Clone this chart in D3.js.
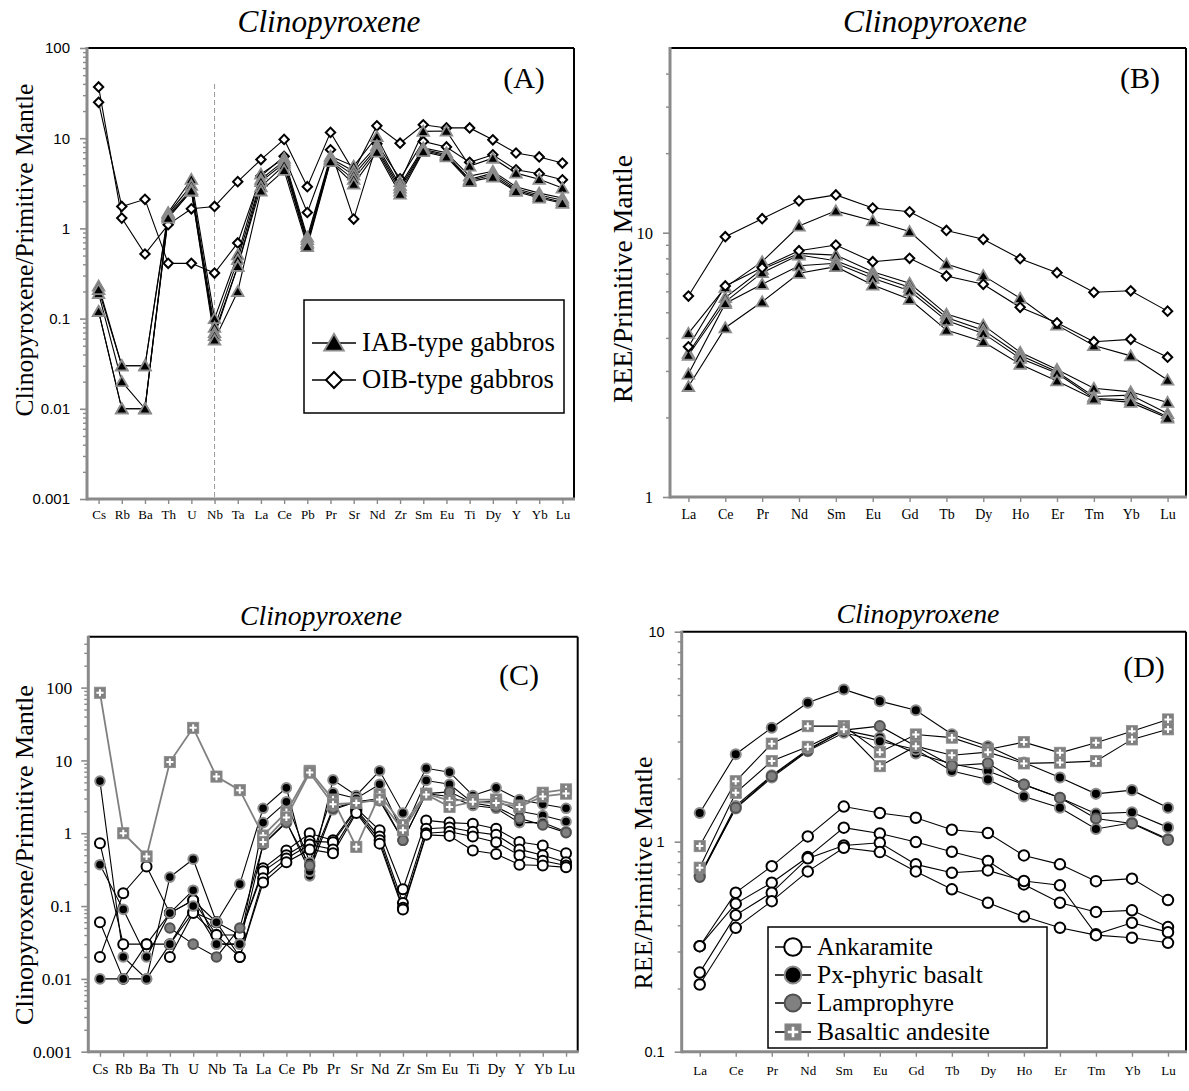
<!DOCTYPE html>
<html>
<head>
<meta charset="utf-8">
<script src="https://cdn.jsdelivr.net/npm/d3@7"></script>
<style>
  body { margin: 0; background: #fff; }
  svg { display: block; }
</style>
</head>
<body>
<svg id="fig" width="1189" height="1091"></svg>
<script>
// ---------- categories ----------
const traceElements = ["Cs","Rb","Ba","Th","U","Nb","Ta","La","Ce","Pb","Pr","Sr","Nd","Zr","Sm","Eu","Ti","Dy","Y","Yb","Lu"];
const reeElements   = ["La","Ce","Pr","Nd","Sm","Eu","Gd","Tb","Dy","Ho","Er","Tm","Yb","Lu"];

// ---------- (A) gabbro clinopyroxene, trace elements ----------
const iabTraceA = [
  [0.23,0.03,0.03,1.5,3.5,0.10,0.51,4.0,6.0,0.80,6.3,4.9,10.4,3.3,11.9,12.0,4.9,6.0,4.1,3.5,2.8],
  [0.19,0.02,0.01,1.45,3.0,0.08,0.45,3.5,5.6,0.75,6.0,4.3,8.3,3.0,7.8,6.9,3.8,4.3,2.9,2.46,2.17],
  [0.21,0.03,0.03,1.4,2.7,0.07,0.38,3.3,5.3,0.70,5.8,3.9,7.8,2.8,7.5,6.6,3.5,4.1,2.75,2.35,2.05],
  [0.12,0.01,0.01,1.35,2.6,0.065,0.38,2.9,5.0,0.67,5.6,3.5,7.4,2.6,7.3,6.4,3.4,3.9,2.65,2.25,1.95],
  [0.12,0.01,0.01,1.3,2.6,0.058,0.20,2.6,4.4,0.63,5.5,3.1,7.0,2.4,7.1,6.2,3.3,3.7,2.57,2.17,1.9]
];
const oibTraceA = [
  [37,1.3,0.52,1.1,1.65,1.75,3.3,5.8,9.7,2.9,11.6,4.3,13.7,8.8,14.1,13.0,13.0,9.6,6.85,6.2,5.3],
  [25,1.75,2.1,0.41,0.41,0.32,0.69,3.8,6.3,1.5,7.45,1.27,8.7,3.55,9.2,8.0,5.4,6.55,4.47,4.04,3.46]
];

// ---------- (B) gabbro clinopyroxene, REE ----------
const iabReeB = [
  [4.16,6.21,7.77,10.6,12.1,11.1,10.1,7.61,6.88,5.65,4.47,3.74,3.42,2.77],
  [3.50,5.68,7.27,8.35,8.23,7.12,6.44,4.92,4.47,3.53,3.04,2.58,2.50,2.28],
  [3.44,5.48,7.06,8.23,7.83,6.92,6.22,4.78,4.28,3.44,2.98,2.40,2.43,2.07],
  [2.92,5.40,6.38,7.50,7.66,6.72,6.03,4.65,4.16,3.35,2.94,2.36,2.33,2.01],
  [2.62,4.37,5.48,7.02,7.44,6.34,5.60,4.28,3.87,3.18,2.75,2.35,2.28,1.99]
];
const oibReeB = [
  [5.76,9.66,11.3,13.2,13.9,12.4,12.0,10.2,9.44,7.97,7.06,5.95,6.03,5.05],
  [3.70,6.29,7.37,8.55,8.98,7.77,8.00,6.86,6.38,5.22,4.56,3.87,3.95,3.38]
];

// ---------- (C) volcanic clinopyroxene, trace elements ----------
const ankaramiteTraceC = [
  [0.73,0.03,0.03,0.08,0.12,0.06,0.04,0.33,0.58,1.0,0.80,2.2,1.1,0.17,1.5,1.4,1.35,1.15,0.76,0.68,0.53],
  [0.02,0.15,0.35,0.08,0.12,0.04,0.04,0.30,0.50,0.78,0.75,2.1,0.9,0.11,1.15,1.2,1.05,0.95,0.60,0.50,0.40],
  [0.06,0.01,0.03,0.03,0.083,0.06,0.02,0.24,0.45,0.70,0.60,2.0,0.8,0.095,1.0,1.05,0.9,0.75,0.50,0.42,0.36],
  [null,null,null,0.02,0.08,0.04,0.02,0.21,0.40,0.60,0.53,1.9,0.72,0.09,0.95,0.92,0.58,0.52,0.37,0.36,0.34]
];
const pxBasaltTraceC = [
  [5.2,0.02,0.01,0.25,0.44,0.06,0.20,2.2,4.2,0.26,5.4,3.3,7.2,1.9,7.8,6.9,3.3,4.2,2.9,2.5,2.2],
  [0.37,0.09,0.02,0.08,0.165,0.03,0.03,1.4,2.7,0.40,3.6,3.0,4.7,1.0,5.3,4.7,2.6,2.8,2.0,1.75,1.45],
  [0.01,0.01,0.01,0.03,0.10,0.03,0.03,0.7,1.45,0.30,2.1,2.7,3.0,0.8,3.5,3.2,2.4,2.2,1.4,1.4,1.05]
];
const lamprophyreTraceC = [
  [null,null,null,0.05,0.03,0.02,0.05,0.7,1.4,0.36,2.2,2.7,2.8,0.8,3.5,3.7,2.6,2.3,1.6,1.3,1.02]
];
const basalticAndesiteTraceC = [
  [85,1.0,0.48,9.5,28,6.0,3.9,0.93,1.95,7.2,2.9,0.65,3.4,1.3,3.5,2.8,2.9,2.9,2.4,3.6,4.0],
  [null,null,null,null,null,null,null,0.76,1.65,6.8,2.5,2.6,2.9,1.1,3.4,2.3,2.7,2.6,2.3,3.2,3.5]
];

// ---------- (D) volcanic clinopyroxene, REE ----------
const ankaramiteReeD = [
  [0.318,0.572,0.765,1.06,1.47,1.37,1.30,1.14,1.10,0.86,0.78,0.649,0.667,0.527],
  [0.318,0.507,0.638,0.845,1.166,1.095,0.996,0.896,0.809,0.626,0.512,0.463,0.471,0.392],
  [0.238,0.447,0.572,0.833,0.96,0.989,0.78,0.711,0.73,0.65,0.62,0.362,0.411,0.371],
  [0.209,0.389,0.521,0.722,0.936,0.892,0.722,0.593,0.512,0.44,0.389,0.359,0.349,0.330]
];
const pxBasaltReeD = [
  [1.37,2.61,3.49,4.59,5.31,4.67,4.23,3.25,2.85,2.38,2.02,1.69,1.76,1.45],
  [0.69,1.48,2.07,2.75,3.40,3.13,2.63,2.35,2.17,1.87,1.62,1.36,1.38,1.17],
  [0.69,1.44,2.02,2.70,3.30,3.01,2.75,2.17,1.98,1.64,1.45,1.15,1.23,1.03]
];
const lamprophyreReeD = [
  [0.68,1.45,2.05,2.72,3.40,3.55,2.85,2.30,2.36,1.87,1.62,1.29,1.22,1.02]
];
const basalticAndesiteReeD = [
  [0.953,1.94,2.93,3.55,3.55,2.67,3.24,3.13,2.75,2.98,2.65,2.96,3.36,3.82],
  [0.752,1.71,2.42,2.83,3.43,2.29,2.85,2.58,2.67,2.36,2.38,2.42,3.07,3.43]
];

// ---------- legend labels ----------
const legendA = ["IAB-type gabbros", "OIB-type gabbros"];
const legendD = ["Ankaramite", "Px-phyric basalt", "Lamprophyre", "Basaltic andesite"];

// ---------- drawing ----------
const svg = d3.select("#fig");
const SERIF = "'Liberation Serif', 'Times New Roman', Times, serif";
const SANS = "'Liberation Sans', Arial, sans-serif";
const AXIS_GREY = "#8a8a8a";

// marker painters
const markers = {
  tri(g, s = 1) {
    g.append("path").attr("d", d3.symbol(d3.symbolTriangle, 58 * s * s)())
      .attr("transform", `translate(0,${1.2 * s})`)
      .attr("fill", "#000").attr("stroke", "#8c8c8c").attr("stroke-width", 1.8);
  },
  dia(g, s = 1) {
    g.append("path").attr("d", d3.symbol(d3.symbolSquare, 44 * s * s)())
      .attr("transform", "rotate(45)")
      .attr("fill", "#fff").attr("stroke", "#000").attr("stroke-width", 2);
  },
  open(g, s = 1) {
    g.append("circle").attr("r", 5 * s)
      .attr("fill", "#fff").attr("stroke", "#000").attr("stroke-width", 2);
  },
  black(g, s = 1) {
    g.append("circle").attr("r", 4.8 * s)
      .attr("fill", "#000").attr("stroke", "#8c8c8c").attr("stroke-width", 2);
  },
  grey(g, s = 1) {
    g.append("circle").attr("r", 4.8 * s)
      .attr("fill", "#808080").attr("stroke", "#505050").attr("stroke-width", 2);
  },
  sqplus(g, s = 1) {
    const h = 5.6 * s, a = 3.6 * s;
    g.append("rect").attr("x", -h).attr("y", -h).attr("width", 2 * h).attr("height", 2 * h)
      .attr("fill", "#808080").attr("stroke", "#8c8c8c").attr("stroke-width", 0.8);
    g.append("path").attr("d", `M${-a},0H${a}M0,${-a}V${a}`)
      .attr("stroke", "#fff").attr("stroke-width", 2 * Math.max(1, s * 0.9));
  }
};

function fitText(sel, width) {
  const node = sel.node();
  const fs = parseFloat(sel.attr("font-size"));
  const w = node.getComputedTextLength();
  if (w > 0) sel.attr("font-size", (fs * width / w).toFixed(2));
  return sel;
}

function decadeTicks(lo, hi) {
  const majors = [], minors = [];
  for (let e = Math.round(Math.log10(lo)) - 1; e <= Math.round(Math.log10(hi)); e++) {
    const base = Math.pow(10, e);
    if (base >= lo * 0.999 && base <= hi * 1.001) majors.push(+base.toPrecision(1));
    for (let k = 2; k <= 9; k++) {
      const v = +(k * base).toPrecision(2);
      if (v > lo && v < hi) minors.push(v);
    }
  }
  return { majors, minors };
}

function panel(p) {
  const g = svg.append("g");
  const x = d3.scalePoint().domain(p.cats).range([p.left, p.right]).padding(0.5);
  const y = d3.scaleLog().domain(p.domain).range([p.bottom, p.top]);
  const { majors, minors } = decadeTicks(p.domain[0], p.domain[1]);

  // y axis: minor and major ticks
  g.append("g").attr("transform", `translate(${p.left},0)`)
    .call(d3.axisLeft(y).tickValues(minors).tickSize(4).tickFormat(""))
    .call(a => a.select(".domain").remove())
    .call(a => a.selectAll("line").attr("stroke", AXIS_GREY).attr("stroke-width", 1.4));
  g.append("g").attr("transform", `translate(${p.left},0)`)
    .call(d3.axisLeft(y).tickValues(majors).tickSize(7).tickPadding(p.yPad).tickFormat(d => String(d)))
    .call(a => a.select(".domain").remove())
    .call(a => a.selectAll("line").attr("stroke", AXIS_GREY).attr("stroke-width", 1.6))
    .call(a => a.selectAll("text").attr("fill", "#000")
      .attr("font-family", p.yFont).attr("font-size", p.ySize));

  // x axis
  g.append("g").attr("transform", `translate(0,${p.bottom})`)
    .call(d3.axisBottom(x).tickSize(5).tickPadding(p.xPad))
    .call(a => a.select(".domain").remove())
    .call(a => a.selectAll("line").attr("stroke", AXIS_GREY).attr("stroke-width", 1.4))
    .call(a => a.selectAll("text").attr("fill", "#000")
      .attr("font-family", SERIF).attr("font-size", p.xSize));

  // frame: grey axis lines at left/bottom, black border at top/right
  g.append("line").attr("x1", p.right).attr("x2", p.right).attr("y1", p.top).attr("y2", p.bottom)
    .attr("stroke", "#000").attr("stroke-width", 2);
  g.append("line").attr("x1", p.left).attr("x2", p.right).attr("y1", p.top).attr("y2", p.top)
    .attr("stroke", "#000").attr("stroke-width", 2);
  g.append("line").attr("x1", p.left).attr("x2", p.left).attr("y1", p.top - 1).attr("y2", p.bottom + 1.5)
    .attr("stroke", AXIS_GREY).attr("stroke-width", 3);
  g.append("line").attr("x1", p.left).attr("x2", p.right + 1).attr("y1", p.bottom).attr("y2", p.bottom)
    .attr("stroke", AXIS_GREY).attr("stroke-width", 3);

  if (p.extra) p.extra(g, x, y);

  // series
  const line = d3.line().defined(d => d.v != null).x(d => x(d.c)).y(d => y(d.v));
  p.groups.forEach(grp => {
    grp.rows.forEach(row => {
      const pts = row.map((v, i) => ({ c: p.cats[i], v }));
      g.append("path").datum(pts).attr("d", line).attr("fill", "none")
        .attr("stroke", grp.lineColor || "#000").attr("stroke-width", grp.lineWidth || 1.1);
    });
  });
  p.groups.forEach(grp => {
    grp.rows.forEach(row => {
      row.forEach((v, i) => {
        if (v == null) return;
        const m = g.append("g").attr("transform", `translate(${x(p.cats[i])},${y(v)})`);
        markers[grp.kind](m, grp.scale || 1);
      });
    });
  });

  // texts
  fitText(g.append("text").attr("x", p.title[0]).attr("y", p.title[1])
    .attr("text-anchor", "middle").attr("font-family", SERIF).attr("font-style", "italic")
    .attr("font-size", 28).text("Clinopyroxene"), p.title[2]);
  fitText(g.append("text").attr("transform", `translate(${p.yTitle[0]},${p.yTitle[1]}) rotate(-90)`)
    .attr("text-anchor", "middle").attr("font-family", SERIF)
    .attr("font-size", 26).text(p.yTitleText), p.yTitle[2]);
  g.append("text").attr("x", p.tag[0]).attr("y", p.tag[1]).attr("text-anchor", "middle")
    .attr("font-family", SERIF).attr("font-size", 30).text(p.tagText);
  return g;
}

// (A)
panel({
  cats: traceElements, left: 87, right: 574, top: 48, bottom: 499,
  domain: [0.001, 100], yFont: SANS, ySize: 15, yPad: 10, xSize: 13, xPad: 6,
  title: [329, 32, 183], yTitle: [33, 250, 333], yTitleText: "Clinopyroxene/Primitive Mantle",
  tag: [524, 88], tagText: "(A)",
  extra(g, x, y) {
    g.append("line").attr("x1", x("Nb")).attr("x2", x("Nb")).attr("y1", 84).attr("y2", 499)
      .attr("stroke", "#9a9a9a").attr("stroke-width", 1).attr("stroke-dasharray", "5,3");
  },
  groups: [ { rows: oibTraceA, kind: "dia" }, { rows: iabTraceA, kind: "tri" } ]
});

// (B)
panel({
  cats: reeElements, left: 670, right: 1186, top: 48, bottom: 497,
  domain: [1, 50], yFont: SERIF, ySize: 16.5, yPad: 10, xSize: 14, xPad: 7,
  title: [935, 32, 184], yTitle: [632, 279, 248], yTitleText: "REE/Primitive Mantle",
  tag: [1140, 88], tagText: "(B)",
  groups: [ { rows: iabReeB, kind: "tri" }, { rows: oibReeB, kind: "dia" } ]
});

// (C)
panel({
  cats: traceElements, left: 88.3, right: 577.7, top: 636.7, bottom: 1051.7,
  domain: [0.001, 500], yFont: SERIF, ySize: 17.5, yPad: 9, xSize: 15, xPad: 7,
  title: [321, 625, 162], yTitle: [33, 855, 340], yTitleText: "Clinopyroxene/Primitive Mantle",
  tag: [519, 685], tagText: "(C)",
  groups: [
    { rows: ankaramiteTraceC, kind: "open" },
    { rows: pxBasaltTraceC, kind: "black" },
    { rows: lamprophyreTraceC, kind: "grey" },
    { rows: basalticAndesiteTraceC, kind: "sqplus", lineColor: "#808080", lineWidth: 1.8 }
  ]
});

// (D)
panel({
  cats: reeElements, left: 681.7, right: 1186, top: 631.7, bottom: 1051.7,
  domain: [0.1, 10], yFont: SANS, ySize: 14.5, yPad: 10, xSize: 13, xPad: 9,
  title: [918, 623, 163], yTitle: [652, 873, 233], yTitleText: "REE/Primitive Mantle",
  tag: [1144, 677], tagText: "(D)",
  groups: [
    { rows: ankaramiteReeD, kind: "open", scale: 1.05 },
    { rows: pxBasaltReeD, kind: "black", scale: 1.05 },
    { rows: lamprophyreReeD, kind: "grey", scale: 1.05 },
    { rows: basalticAndesiteReeD, kind: "sqplus" }
  ]
});

// legend (A)
{
  const g = svg.append("g");
  g.append("rect").attr("x", 304).attr("y", 300).attr("width", 260).attr("height", 113)
    .attr("fill", "#fff").attr("stroke", "#000").attr("stroke-width", 1.5);
  const kinds = ["tri", "dia"], ys = [343, 380], widths = [193, 192];
  legendA.forEach((label, i) => {
    g.append("line").attr("x1", 312).attr("x2", 356).attr("y1", ys[i]).attr("y2", ys[i])
      .attr("stroke", "#000").attr("stroke-width", 1.5);
    markers[kinds[i]](g.append("g").attr("transform", `translate(334,${ys[i]})`), 1.7);
    fitText(g.append("text").attr("x", 362).attr("y", ys[i] + 8).attr("font-family", SERIF)
      .attr("font-size", 25).text(label), widths[i]);
  });
}

// legend (D)
{
  const g = svg.append("g");
  g.append("rect").attr("x", 768).attr("y", 927).attr("width", 279).attr("height", 121)
    .attr("fill", "#fff").attr("stroke", "#000").attr("stroke-width", 1.5);
  const kinds = ["open", "black", "grey", "sqplus"], ys = [947, 975, 1003, 1032],
        widths = [116, 166, 137, 173];
  legendD.forEach((label, i) => {
    g.append("line").attr("x1", 775).attr("x2", 811).attr("y1", ys[i]).attr("y2", ys[i])
      .attr("stroke", "#000").attr("stroke-width", 1.5);
    markers[kinds[i]](g.append("g").attr("transform", `translate(793,${ys[i]})`), kinds[i] === "sqplus" ? 1.45 : 1.75);
    fitText(g.append("text").attr("x", 817).attr("y", ys[i] + 8).attr("font-family", SERIF)
      .attr("font-size", 24).text(label), widths[i]);
  });
}
</script>
</body>
</html>
